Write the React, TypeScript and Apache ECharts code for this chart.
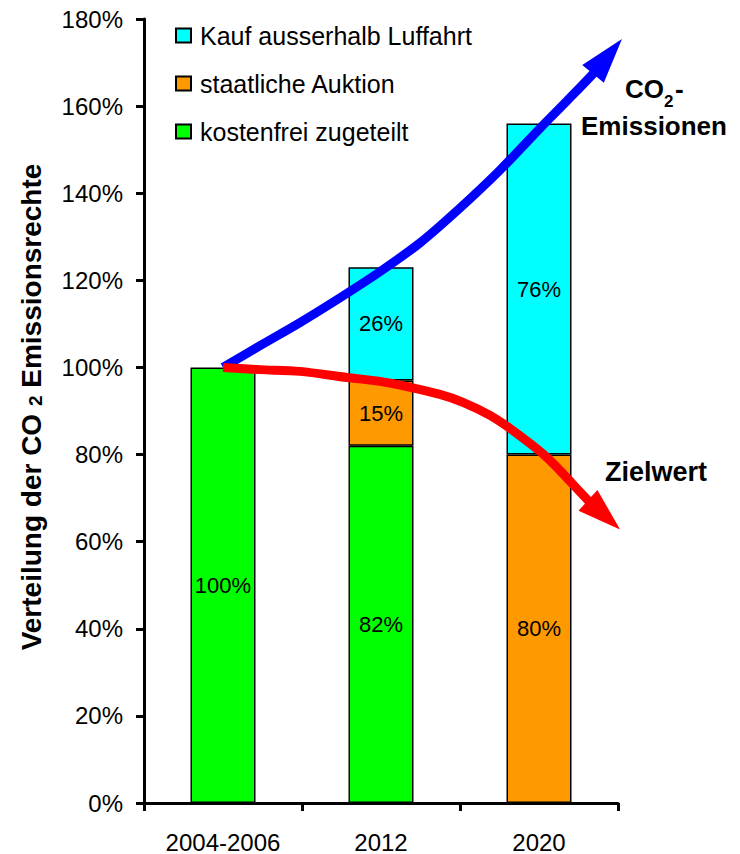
import React, { useEffect, useRef } from 'react';
import * as echarts from 'echarts';

// Periods on the x axis
const categories = ['2004-2006', '2012', '2020'];

// Share of CO2 emission allowances (% of the 2004-2006 level), stacked bottom to top
const freeAllocation: (number | null)[] = [100, 82, null];
const stateAuction: (number | null)[] = [null, 15, 80];
const purchasedOutside: (number | null)[] = [null, 26, 76];

const seriesNames = ['kostenfrei zugeteilt', 'staatliche Auktion', 'Kauf ausserhalb Luffahrt'];
const legendOrder = ['Kauf ausserhalb Luffahrt', 'staatliche Auktion', 'kostenfrei zugeteilt'];

// Trend arrows as (category position, percent); the separate tip is the arrow point
const emissionsTrend: number[][] = [
  [0, 100], [0.234, 105.0], [0.487, 110.3], [0.741, 116.0], [0.994, 122.0],
  [1.247, 128.6], [1.5, 136.6], [1.753, 145.3], [2.006, 154.9], [2.177, 161.2], [2.342, 167.4],
];
const emissionsTip = [2.525, 175.4];
const targetTrend: number[][] = [
  [0, 100], [0.234, 99.5], [0.487, 99.1], [0.785, 97.7], [0.994, 96.8], [1.165, 95.6],
  [1.373, 93.8], [1.519, 92.0], [1.69, 89.0], [1.835, 85.5], [2.051, 79.3], [2.31, 69.5],
];
const targetTip = [2.513, 62.8];

const FONT = '"Liberation Sans", Arial, Helvetica, sans-serif';

function arrowRenderer(points: number[][], tip: number[], color: string) {
  return (_params: any, api: any) => {
    const pts = points.map((p) => api.coord(p));
    const t = api.coord(tip);
    const b = pts[pts.length - 1];
    const dx = t[0] - b[0];
    const dy = t[1] - b[1];
    const len = Math.hypot(dx, dy) || 1;
    const nx = -dy / len;
    const ny = dx / len;
    const half = 14;
    return {
      type: 'group',
      children: [
        {
          type: 'polyline',
          shape: { points: [...pts, [b[0] + dx * 0.25, b[1] + dy * 0.25]], smooth: 0.3 },
          style: { stroke: color, lineWidth: 9, fill: null, lineCap: 'butt', lineJoin: 'round' },
        },
        {
          type: 'polygon',
          shape: {
            points: [t, [b[0] + nx * half, b[1] + ny * half], [b[0] - nx * half, b[1] - ny * half]],
          },
          style: { fill: color },
        },
      ],
    };
  };
}

export default function App() {
  const ref = useRef<HTMLDivElement>(null);

  useEffect(() => {
    if (!ref.current) return;
    const chart = echarts.init(ref.current, undefined, { renderer: 'svg' });

    const barLabel = {
      show: true,
      position: 'inside',
      formatter: (p: any) => `${p.value}%`,
      color: '#000',
      fontSize: 22,
      fontFamily: FONT,
    };
    const colors = ['#00FF00', '#FF9900', '#00FFFF'];
    const values = [freeAllocation, stateAuction, purchasedOutside];
    const boldText = { fontWeight: 'bold', fontFamily: FONT, fill: '#000' };

    chart.setOption({
      animation: false,
      textStyle: { fontFamily: FONT, color: '#000' },
      grid: { left: 144, right: 122, top: 19, bottom: 50, containLabel: false },
      legend: {
        data: legendOrder,
        orient: 'vertical',
        left: 175,
        top: 23,
        padding: 0,
        icon: 'rect',
        itemWidth: 15,
        itemHeight: 14,
        itemGap: 23,
        selectedMode: false,
        textStyle: { fontSize: 25, color: '#000', fontFamily: FONT, lineHeight: 24, padding: [0, 0, 0, 4] },
      },
      xAxis: [
        {
          type: 'category',
          data: categories,
          axisLine: { lineStyle: { color: '#000', width: 3 } },
          axisTick: { show: true, length: 8, lineStyle: { color: '#000', width: 3 } },
          axisLabel: { fontSize: 24, color: '#000', margin: 27, fontFamily: FONT },
        },
        {
          type: 'value',
          min: -0.5,
          max: 2.5,
          show: false,
        },
      ],
      yAxis: {
        type: 'value',
        min: 0,
        max: 180,
        interval: 20,
        axisLine: { show: true, onZero: false, lineStyle: { color: '#000', width: 3 } },
        axisTick: { show: true, length: 8, lineStyle: { color: '#000', width: 3 } },
        splitLine: { show: false },
        axisLabel: { fontSize: 24, color: '#000', margin: 21, formatter: '{value}%', fontFamily: FONT },
      },
      series: [
        ...seriesNames.map((name, i) => ({
          type: 'bar',
          stack: 'total',
          barWidth: 65,
          xAxisIndex: 0,
          yAxisIndex: 0,
          silent: true,
          name,
          data: values[i],
          label: barLabel,
          itemStyle: { color: colors[i], borderColor: '#000', borderWidth: 1.5 },
        })),
        {
          type: 'custom',
          name: 'CO2-Emissionen',
          xAxisIndex: 1,
          yAxisIndex: 0,
          z: 5,
          silent: true,
          data: [emissionsTrend[0]],
          renderItem: arrowRenderer(emissionsTrend, emissionsTip, '#0000FF'),
        },
        {
          type: 'custom',
          name: 'Zielwert',
          xAxisIndex: 1,
          yAxisIndex: 0,
          z: 5,
          silent: true,
          data: [targetTrend[0]],
          renderItem: arrowRenderer(targetTrend, targetTip, '#FF0000'),
        },
      ],
      graphic: [
        {
          type: 'text',
          x: 31,
          y: 407,
          rotation: Math.PI / 2,
          style: {
            text: 'Verteilung der CO {s|2} Emissionsrechte',
            fontSize: 28,
            ...boldText,
            align: 'center',
            verticalAlign: 'middle',
            rich: {
              s: { fontSize: 19, fontWeight: 'bold', fontFamily: FONT, verticalAlign: 'bottom', lineHeight: 16 },
            },
          },
        },
        {
          type: 'text',
          x: 625,
          y: 89,
          style: { text: 'CO', fontSize: 26, ...boldText, align: 'left', verticalAlign: 'middle' },
        },
        {
          type: 'text',
          x: 664,
          y: 101,
          style: { text: '2', fontSize: 17, ...boldText, align: 'left', verticalAlign: 'middle' },
        },
        {
          type: 'text',
          x: 675,
          y: 89,
          style: { text: '-', fontSize: 26, ...boldText, align: 'left', verticalAlign: 'middle' },
        },
        {
          type: 'text',
          x: 654,
          y: 126,
          style: { text: 'Emissionen', fontSize: 26, ...boldText, align: 'center', verticalAlign: 'middle' },
        },
        {
          type: 'text',
          x: 605,
          y: 472,
          style: { text: 'Zielwert', fontSize: 27, ...boldText, align: 'left', verticalAlign: 'middle' },
        },
      ],
    });

    return () => chart.dispose();
  }, []);

  return (
    <div
      ref={ref}
      style={{ position: 'fixed', left: 0, top: 0, width: 740, height: 854, background: '#fff' }}
    />
  );
}
